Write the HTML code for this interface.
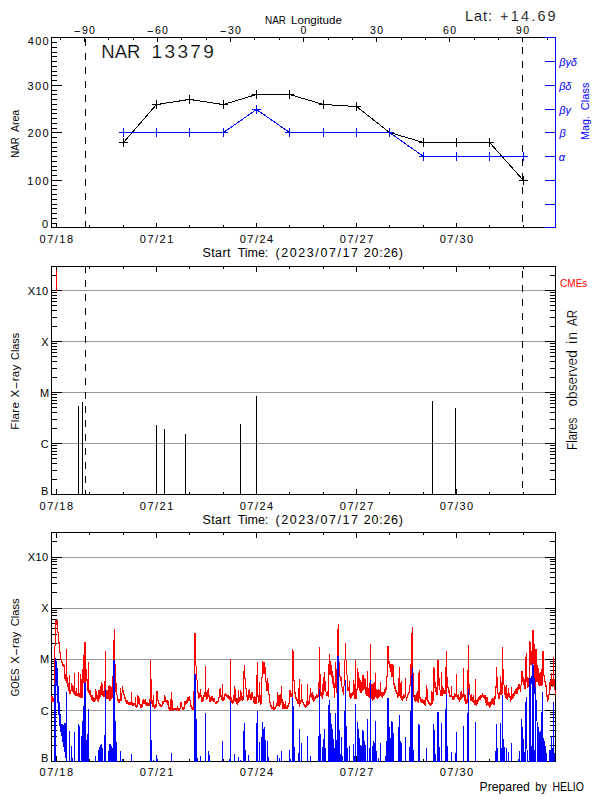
<!DOCTYPE html>
<html><head><meta charset="utf-8"><title>NAR 13379</title>
<style>
html,body{margin:0;padding:0;background:#fff;}
svg{display:block;font-family:"Liberation Sans",sans-serif;}
</style></head><body>
<svg width="600" height="800" viewBox="0 0 600 800" shape-rendering="crispEdges">
<rect width="600" height="800" fill="#fff"/>
<rect x="51" y="37" width="505" height="1" fill="#000"/>
<rect x="51" y="227" width="505" height="1" fill="#000"/>
<rect x="51" y="37" width="1" height="191" fill="#000"/>
<rect x="555" y="37" width="1" height="191" fill="#000"/>
<rect x="51" y="227" width="11" height="1" fill="#000"/>
<rect x="51" y="223" width="6" height="1" fill="#000"/>
<rect x="51" y="218" width="6" height="1" fill="#000"/>
<rect x="51" y="213" width="6" height="1" fill="#000"/>
<rect x="51" y="208" width="6" height="1" fill="#000"/>
<rect x="51" y="204" width="6" height="1" fill="#000"/>
<rect x="51" y="199" width="6" height="1" fill="#000"/>
<rect x="51" y="194" width="6" height="1" fill="#000"/>
<rect x="51" y="189" width="6" height="1" fill="#000"/>
<rect x="51" y="185" width="6" height="1" fill="#000"/>
<rect x="51" y="180" width="11" height="1" fill="#000"/>
<rect x="51" y="175" width="6" height="1" fill="#000"/>
<rect x="51" y="170" width="6" height="1" fill="#000"/>
<rect x="51" y="166" width="6" height="1" fill="#000"/>
<rect x="51" y="161" width="6" height="1" fill="#000"/>
<rect x="51" y="156" width="6" height="1" fill="#000"/>
<rect x="51" y="151" width="6" height="1" fill="#000"/>
<rect x="51" y="147" width="6" height="1" fill="#000"/>
<rect x="51" y="142" width="6" height="1" fill="#000"/>
<rect x="51" y="137" width="6" height="1" fill="#000"/>
<rect x="51" y="132" width="11" height="1" fill="#000"/>
<rect x="51" y="128" width="6" height="1" fill="#000"/>
<rect x="51" y="123" width="6" height="1" fill="#000"/>
<rect x="51" y="118" width="6" height="1" fill="#000"/>
<rect x="51" y="113" width="6" height="1" fill="#000"/>
<rect x="51" y="109" width="6" height="1" fill="#000"/>
<rect x="51" y="104" width="6" height="1" fill="#000"/>
<rect x="51" y="99" width="6" height="1" fill="#000"/>
<rect x="51" y="94" width="6" height="1" fill="#000"/>
<rect x="51" y="90" width="6" height="1" fill="#000"/>
<rect x="51" y="85" width="11" height="1" fill="#000"/>
<rect x="51" y="80" width="6" height="1" fill="#000"/>
<rect x="51" y="75" width="6" height="1" fill="#000"/>
<rect x="51" y="71" width="6" height="1" fill="#000"/>
<rect x="51" y="66" width="6" height="1" fill="#000"/>
<rect x="51" y="61" width="6" height="1" fill="#000"/>
<rect x="51" y="56" width="6" height="1" fill="#000"/>
<rect x="51" y="52" width="6" height="1" fill="#000"/>
<rect x="51" y="47" width="6" height="1" fill="#000"/>
<rect x="51" y="42" width="6" height="1" fill="#000"/>
<rect x="51" y="37" width="11" height="1" fill="#000"/>
<rect x="56" y="223" width="1" height="5" fill="#000"/>
<rect x="89" y="225" width="1" height="3" fill="#000"/>
<rect x="123" y="225" width="1" height="3" fill="#000"/>
<rect x="156" y="223" width="1" height="5" fill="#000"/>
<rect x="189" y="225" width="1" height="3" fill="#000"/>
<rect x="223" y="225" width="1" height="3" fill="#000"/>
<rect x="256" y="223" width="1" height="5" fill="#000"/>
<rect x="289" y="225" width="1" height="3" fill="#000"/>
<rect x="323" y="225" width="1" height="3" fill="#000"/>
<rect x="356" y="223" width="1" height="5" fill="#000"/>
<rect x="389" y="225" width="1" height="3" fill="#000"/>
<rect x="423" y="225" width="1" height="3" fill="#000"/>
<rect x="456" y="223" width="1" height="5" fill="#000"/>
<rect x="489" y="225" width="1" height="3" fill="#000"/>
<rect x="523" y="225" width="1" height="3" fill="#000"/>
<rect x="60" y="37" width="1" height="3" fill="#000"/>
<rect x="84" y="37" width="1" height="5" fill="#000"/>
<rect x="108" y="37" width="1" height="3" fill="#000"/>
<rect x="133" y="37" width="1" height="3" fill="#000"/>
<rect x="157" y="37" width="1" height="5" fill="#000"/>
<rect x="181" y="37" width="1" height="3" fill="#000"/>
<rect x="206" y="37" width="1" height="3" fill="#000"/>
<rect x="230" y="37" width="1" height="5" fill="#000"/>
<rect x="254" y="37" width="1" height="3" fill="#000"/>
<rect x="279" y="37" width="1" height="3" fill="#000"/>
<rect x="303" y="37" width="1" height="5" fill="#000"/>
<rect x="328" y="37" width="1" height="3" fill="#000"/>
<rect x="352" y="37" width="1" height="3" fill="#000"/>
<rect x="376" y="37" width="1" height="5" fill="#000"/>
<rect x="401" y="37" width="1" height="3" fill="#000"/>
<rect x="425" y="37" width="1" height="3" fill="#000"/>
<rect x="449" y="37" width="1" height="5" fill="#000"/>
<rect x="474" y="37" width="1" height="3" fill="#000"/>
<rect x="498" y="37" width="1" height="3" fill="#000"/>
<rect x="522" y="37" width="1" height="5" fill="#000"/>
<rect x="547" y="37" width="1" height="3" fill="#000"/>
<rect x="555" y="37" width="1" height="191" fill="#00f"/>
<rect x="545" y="227" width="11" height="1" fill="#00f"/>
<rect x="545" y="204" width="11" height="1" fill="#00f"/>
<rect x="545" y="180" width="11" height="1" fill="#00f"/>
<rect x="545" y="156" width="11" height="1" fill="#00f"/>
<rect x="545" y="132" width="11" height="1" fill="#00f"/>
<rect x="545" y="109" width="11" height="1" fill="#00f"/>
<rect x="545" y="85" width="11" height="1" fill="#00f"/>
<rect x="545" y="61" width="11" height="1" fill="#00f"/>
<rect x="545" y="37" width="11" height="1" fill="#00f"/>
<rect x="85" y="39" width="1" height="7" fill="#000"/>
<rect x="85" y="53" width="1" height="7" fill="#000"/>
<rect x="85" y="67" width="1" height="7" fill="#000"/>
<rect x="85" y="81" width="1" height="7" fill="#000"/>
<rect x="85" y="95" width="1" height="7" fill="#000"/>
<rect x="85" y="109" width="1" height="7" fill="#000"/>
<rect x="85" y="123" width="1" height="7" fill="#000"/>
<rect x="85" y="137" width="1" height="7" fill="#000"/>
<rect x="85" y="151" width="1" height="7" fill="#000"/>
<rect x="85" y="165" width="1" height="7" fill="#000"/>
<rect x="85" y="179" width="1" height="7" fill="#000"/>
<rect x="85" y="193" width="1" height="7" fill="#000"/>
<rect x="85" y="207" width="1" height="7" fill="#000"/>
<rect x="85" y="221" width="1" height="7" fill="#000"/>
<rect x="522" y="37" width="1" height="3" fill="#000"/>
<rect x="522" y="47" width="1" height="7" fill="#000"/>
<rect x="522" y="61" width="1" height="7" fill="#000"/>
<rect x="522" y="75" width="1" height="7" fill="#000"/>
<rect x="522" y="89" width="1" height="7" fill="#000"/>
<rect x="522" y="103" width="1" height="7" fill="#000"/>
<rect x="522" y="117" width="1" height="7" fill="#000"/>
<rect x="522" y="131" width="1" height="7" fill="#000"/>
<rect x="522" y="145" width="1" height="7" fill="#000"/>
<rect x="522" y="159" width="1" height="7" fill="#000"/>
<rect x="522" y="173" width="1" height="7" fill="#000"/>
<rect x="522" y="187" width="1" height="7" fill="#000"/>
<rect x="522" y="201" width="1" height="7" fill="#000"/>
<rect x="522" y="215" width="1" height="7" fill="#000"/>
<polyline points="123.5,142.5 156.5,104.5 189.5,99.5 223.5,104.5 256.5,94.5 289.5,94.5 323.5,104.5 356.5,106.5 389.5,132.5 423.5,142.5 456.5,142.5 489.5,142.5 523.5,180.5" fill="none" stroke="#000" stroke-width="1"/>
<rect x="119" y="142" width="9" height="1" fill="#000"/>
<rect x="123" y="138" width="1" height="9" fill="#000"/>
<rect x="152" y="104" width="9" height="1" fill="#000"/>
<rect x="156" y="100" width="1" height="9" fill="#000"/>
<rect x="185" y="99" width="9" height="1" fill="#000"/>
<rect x="189" y="95" width="1" height="9" fill="#000"/>
<rect x="219" y="104" width="9" height="1" fill="#000"/>
<rect x="223" y="100" width="1" height="9" fill="#000"/>
<rect x="252" y="94" width="9" height="1" fill="#000"/>
<rect x="256" y="90" width="1" height="9" fill="#000"/>
<rect x="285" y="94" width="9" height="1" fill="#000"/>
<rect x="289" y="90" width="1" height="9" fill="#000"/>
<rect x="319" y="104" width="9" height="1" fill="#000"/>
<rect x="323" y="100" width="1" height="9" fill="#000"/>
<rect x="352" y="106" width="9" height="1" fill="#000"/>
<rect x="356" y="102" width="1" height="9" fill="#000"/>
<rect x="385" y="132" width="9" height="1" fill="#000"/>
<rect x="389" y="128" width="1" height="9" fill="#000"/>
<rect x="419" y="142" width="9" height="1" fill="#000"/>
<rect x="423" y="138" width="1" height="9" fill="#000"/>
<rect x="452" y="142" width="9" height="1" fill="#000"/>
<rect x="456" y="138" width="1" height="9" fill="#000"/>
<rect x="485" y="142" width="9" height="1" fill="#000"/>
<rect x="489" y="138" width="1" height="9" fill="#000"/>
<rect x="519" y="180" width="9" height="1" fill="#000"/>
<rect x="523" y="176" width="1" height="9" fill="#000"/>
<polyline points="123.5,132.5 156.5,132.5 189.5,132.5 223.5,132.5 256.5,109.5 289.5,132.5 323.5,132.5 356.5,132.5 389.5,132.5 423.5,156.5 456.5,156.5 489.5,156.5 523.5,156.5" fill="none" stroke="#00f" stroke-width="1"/>
<rect x="119" y="132" width="9" height="1" fill="#00f"/>
<rect x="123" y="128" width="1" height="9" fill="#00f"/>
<rect x="152" y="132" width="9" height="1" fill="#00f"/>
<rect x="156" y="128" width="1" height="9" fill="#00f"/>
<rect x="185" y="132" width="9" height="1" fill="#00f"/>
<rect x="189" y="128" width="1" height="9" fill="#00f"/>
<rect x="219" y="132" width="9" height="1" fill="#00f"/>
<rect x="223" y="128" width="1" height="9" fill="#00f"/>
<rect x="252" y="109" width="9" height="1" fill="#00f"/>
<rect x="256" y="105" width="1" height="9" fill="#00f"/>
<rect x="285" y="132" width="9" height="1" fill="#00f"/>
<rect x="289" y="128" width="1" height="9" fill="#00f"/>
<rect x="319" y="132" width="9" height="1" fill="#00f"/>
<rect x="323" y="128" width="1" height="9" fill="#00f"/>
<rect x="352" y="132" width="9" height="1" fill="#00f"/>
<rect x="356" y="128" width="1" height="9" fill="#00f"/>
<rect x="385" y="132" width="9" height="1" fill="#00f"/>
<rect x="389" y="128" width="1" height="9" fill="#00f"/>
<rect x="419" y="156" width="9" height="1" fill="#00f"/>
<rect x="423" y="152" width="1" height="9" fill="#00f"/>
<rect x="452" y="156" width="9" height="1" fill="#00f"/>
<rect x="456" y="152" width="1" height="9" fill="#00f"/>
<rect x="485" y="156" width="9" height="1" fill="#00f"/>
<rect x="489" y="152" width="1" height="9" fill="#00f"/>
<rect x="519" y="156" width="9" height="1" fill="#00f"/>
<rect x="523" y="152" width="1" height="9" fill="#00f"/>
<text font-size="11.5" y="23.7"><tspan x="264.99" textLength="20.98" lengthAdjust="spacingAndGlyphs">NAR</tspan> <tspan x="291.06" style="letter-spacing:0.029px">Longitude</tspan></text>
<text font-size="14.5" stroke="#fff" stroke-width="0.15" y="21"><tspan x="465.11" style="letter-spacing:0.941px">Lat:</tspan> <tspan x="500.10" style="letter-spacing:2.166px">+14.69</tspan></text>
<text font-size="10.5" y="34.3"><tspan x="73.52" textLength="7.42" lengthAdjust="spacingAndGlyphs">-</tspan><tspan dx="1.140" style="letter-spacing:1.140px">90</tspan></text>
<text font-size="10.5" y="34.3"><tspan x="146.52" textLength="7.42" lengthAdjust="spacingAndGlyphs">-</tspan><tspan dx="1.140" style="letter-spacing:1.140px">60</tspan></text>
<text font-size="10.5" y="34.3"><tspan x="219.52" textLength="7.42" lengthAdjust="spacingAndGlyphs">-</tspan><tspan dx="1.140" style="letter-spacing:1.140px">30</tspan></text>
<text font-size="10.5" y="34.3"><tspan x="300.58">0</tspan></text>
<text font-size="10.5" y="34.3"><tspan x="370.00" style="letter-spacing:1.322px">30</tspan></text>
<text font-size="10.5" y="34.3"><tspan x="442.88" style="letter-spacing:1.448px">60</tspan></text>
<text font-size="10.5" y="34.3"><tspan x="515.92" style="letter-spacing:1.406px">90</tspan></text>
<text font-size="19" stroke="#fff" stroke-width="0.2" y="57.5"><tspan x="101.28" textLength="39.08" lengthAdjust="spacingAndGlyphs">NAR</tspan> <tspan x="151.56" style="letter-spacing:2.375px">13379</tspan></text>
<text font-size="11" y="45.3"><tspan x="27.76" style="letter-spacing:1.306px">400</tspan></text>
<text font-size="11" y="90.3"><tspan x="27.58" style="letter-spacing:1.394px">300</tspan></text>
<text font-size="11" y="137.3"><tspan x="27.45" style="letter-spacing:1.460px">200</tspan></text>
<text font-size="11" y="185.3"><tspan x="27.16" style="letter-spacing:1.603px">100</tspan></text>
<text font-size="11" y="228"><tspan x="42.09">0</tspan></text>
<text font-size="11" transform="translate(19.3,0) rotate(-90)" y="0"><tspan x="-157.69" textLength="20.34" lengthAdjust="spacingAndGlyphs">NAR</tspan> <tspan x="-132.12" textLength="22.36" lengthAdjust="spacingAndGlyphs">Area</tspan></text>
<text font-size="11" y="243.3"><tspan x="39.52" style="letter-spacing:1.495px">07/18</tspan></text>
<text font-size="11" y="243.3"><tspan x="139.77" style="letter-spacing:1.509px">07/21</tspan></text>
<text font-size="11" y="243.3"><tspan x="239.77" style="letter-spacing:1.457px">07/24</tspan></text>
<text font-size="11" y="243.3"><tspan x="339.77" style="letter-spacing:1.514px">07/27</tspan></text>
<text font-size="11" y="243.3"><tspan x="439.77" style="letter-spacing:1.481px">07/30</tspan></text>
<text font-size="12.5" y="256.6"><tspan x="202.44" style="letter-spacing:0.438px">Start</tspan> <tspan x="237.72" style="letter-spacing:-0.044px">Time:</tspan> <tspan x="275.43" style="letter-spacing:1.587px">(2023/07/17</tspan> <tspan x="363.77" style="letter-spacing:0.753px">20:26)</tspan></text>
<text font-size="11" fill="#00f" font-style="italic" y="66"><tspan x="559.17" style="letter-spacing:-0.035px">βγδ</tspan></text>
<text font-size="11" fill="#00f" font-style="italic" y="90"><tspan x="559.17" textLength="12.23" lengthAdjust="spacingAndGlyphs">βδ</tspan></text>
<text font-size="11" fill="#00f" font-style="italic" y="114"><tspan x="559.17" style="letter-spacing:0.016px">βγ</tspan></text>
<text font-size="11" fill="#00f" font-style="italic" y="137"><tspan x="559.53">β</tspan></text>
<text font-size="11" fill="#00f" font-style="italic" y="161"><tspan x="558.70">α</tspan></text>
<text font-size="11" fill="#00f" transform="translate(589,0) rotate(-90)" y="0"><tspan x="-139.88" textLength="23.86" lengthAdjust="spacingAndGlyphs">Mag.</tspan> <tspan x="-110.25" style="letter-spacing:0.059px">Class</tspan></text>
<rect x="51" y="266" width="505" height="1" fill="#000"/>
<rect x="51" y="494" width="505" height="1" fill="#000"/>
<rect x="51" y="266" width="1" height="229" fill="#000"/>
<rect x="555" y="266" width="1" height="229" fill="#000"/>
<rect x="52" y="290" width="503" height="1" fill="#999"/>
<rect x="52" y="341" width="503" height="1" fill="#999"/>
<rect x="52" y="392" width="503" height="1" fill="#999"/>
<rect x="52" y="443" width="503" height="1" fill="#999"/>
<rect x="51" y="290" width="11" height="1" fill="#000"/>
<rect x="545" y="290" width="11" height="1" fill="#000"/>
<rect x="51" y="275" width="6" height="1" fill="#000"/>
<rect x="550" y="275" width="6" height="1" fill="#000"/>
<rect x="51" y="341" width="11" height="1" fill="#000"/>
<rect x="545" y="341" width="11" height="1" fill="#000"/>
<rect x="51" y="326" width="6" height="1" fill="#000"/>
<rect x="550" y="326" width="6" height="1" fill="#000"/>
<rect x="51" y="317" width="6" height="1" fill="#000"/>
<rect x="550" y="317" width="6" height="1" fill="#000"/>
<rect x="51" y="310" width="6" height="1" fill="#000"/>
<rect x="550" y="310" width="6" height="1" fill="#000"/>
<rect x="51" y="305" width="6" height="1" fill="#000"/>
<rect x="550" y="305" width="6" height="1" fill="#000"/>
<rect x="51" y="301" width="6" height="1" fill="#000"/>
<rect x="550" y="301" width="6" height="1" fill="#000"/>
<rect x="51" y="298" width="6" height="1" fill="#000"/>
<rect x="550" y="298" width="6" height="1" fill="#000"/>
<rect x="51" y="295" width="6" height="1" fill="#000"/>
<rect x="550" y="295" width="6" height="1" fill="#000"/>
<rect x="51" y="292" width="6" height="1" fill="#000"/>
<rect x="550" y="292" width="6" height="1" fill="#000"/>
<rect x="51" y="392" width="11" height="1" fill="#000"/>
<rect x="545" y="392" width="11" height="1" fill="#000"/>
<rect x="51" y="377" width="6" height="1" fill="#000"/>
<rect x="550" y="377" width="6" height="1" fill="#000"/>
<rect x="51" y="368" width="6" height="1" fill="#000"/>
<rect x="550" y="368" width="6" height="1" fill="#000"/>
<rect x="51" y="361" width="6" height="1" fill="#000"/>
<rect x="550" y="361" width="6" height="1" fill="#000"/>
<rect x="51" y="356" width="6" height="1" fill="#000"/>
<rect x="550" y="356" width="6" height="1" fill="#000"/>
<rect x="51" y="352" width="6" height="1" fill="#000"/>
<rect x="550" y="352" width="6" height="1" fill="#000"/>
<rect x="51" y="349" width="6" height="1" fill="#000"/>
<rect x="550" y="349" width="6" height="1" fill="#000"/>
<rect x="51" y="346" width="6" height="1" fill="#000"/>
<rect x="550" y="346" width="6" height="1" fill="#000"/>
<rect x="51" y="343" width="6" height="1" fill="#000"/>
<rect x="550" y="343" width="6" height="1" fill="#000"/>
<rect x="51" y="443" width="11" height="1" fill="#000"/>
<rect x="545" y="443" width="11" height="1" fill="#000"/>
<rect x="51" y="428" width="6" height="1" fill="#000"/>
<rect x="550" y="428" width="6" height="1" fill="#000"/>
<rect x="51" y="419" width="6" height="1" fill="#000"/>
<rect x="550" y="419" width="6" height="1" fill="#000"/>
<rect x="51" y="412" width="6" height="1" fill="#000"/>
<rect x="550" y="412" width="6" height="1" fill="#000"/>
<rect x="51" y="407" width="6" height="1" fill="#000"/>
<rect x="550" y="407" width="6" height="1" fill="#000"/>
<rect x="51" y="403" width="6" height="1" fill="#000"/>
<rect x="550" y="403" width="6" height="1" fill="#000"/>
<rect x="51" y="400" width="6" height="1" fill="#000"/>
<rect x="550" y="400" width="6" height="1" fill="#000"/>
<rect x="51" y="397" width="6" height="1" fill="#000"/>
<rect x="550" y="397" width="6" height="1" fill="#000"/>
<rect x="51" y="394" width="6" height="1" fill="#000"/>
<rect x="550" y="394" width="6" height="1" fill="#000"/>
<rect x="51" y="479" width="6" height="1" fill="#000"/>
<rect x="550" y="479" width="6" height="1" fill="#000"/>
<rect x="51" y="470" width="6" height="1" fill="#000"/>
<rect x="550" y="470" width="6" height="1" fill="#000"/>
<rect x="51" y="463" width="6" height="1" fill="#000"/>
<rect x="550" y="463" width="6" height="1" fill="#000"/>
<rect x="51" y="458" width="6" height="1" fill="#000"/>
<rect x="550" y="458" width="6" height="1" fill="#000"/>
<rect x="51" y="454" width="6" height="1" fill="#000"/>
<rect x="550" y="454" width="6" height="1" fill="#000"/>
<rect x="51" y="451" width="6" height="1" fill="#000"/>
<rect x="550" y="451" width="6" height="1" fill="#000"/>
<rect x="51" y="448" width="6" height="1" fill="#000"/>
<rect x="550" y="448" width="6" height="1" fill="#000"/>
<rect x="51" y="445" width="6" height="1" fill="#000"/>
<rect x="550" y="445" width="6" height="1" fill="#000"/>
<rect x="56" y="489" width="1" height="6" fill="#000"/>
<rect x="56" y="266" width="1" height="6" fill="#000"/>
<rect x="89" y="492" width="1" height="3" fill="#000"/>
<rect x="89" y="266" width="1" height="3" fill="#000"/>
<rect x="123" y="492" width="1" height="3" fill="#000"/>
<rect x="123" y="266" width="1" height="3" fill="#000"/>
<rect x="156" y="489" width="1" height="6" fill="#000"/>
<rect x="156" y="266" width="1" height="6" fill="#000"/>
<rect x="189" y="492" width="1" height="3" fill="#000"/>
<rect x="189" y="266" width="1" height="3" fill="#000"/>
<rect x="223" y="492" width="1" height="3" fill="#000"/>
<rect x="223" y="266" width="1" height="3" fill="#000"/>
<rect x="256" y="489" width="1" height="6" fill="#000"/>
<rect x="256" y="266" width="1" height="6" fill="#000"/>
<rect x="289" y="492" width="1" height="3" fill="#000"/>
<rect x="289" y="266" width="1" height="3" fill="#000"/>
<rect x="323" y="492" width="1" height="3" fill="#000"/>
<rect x="323" y="266" width="1" height="3" fill="#000"/>
<rect x="356" y="489" width="1" height="6" fill="#000"/>
<rect x="356" y="266" width="1" height="6" fill="#000"/>
<rect x="389" y="492" width="1" height="3" fill="#000"/>
<rect x="389" y="266" width="1" height="3" fill="#000"/>
<rect x="423" y="492" width="1" height="3" fill="#000"/>
<rect x="423" y="266" width="1" height="3" fill="#000"/>
<rect x="456" y="489" width="1" height="6" fill="#000"/>
<rect x="456" y="266" width="1" height="6" fill="#000"/>
<rect x="489" y="492" width="1" height="3" fill="#000"/>
<rect x="489" y="266" width="1" height="3" fill="#000"/>
<rect x="523" y="492" width="1" height="3" fill="#000"/>
<rect x="523" y="266" width="1" height="3" fill="#000"/>
<rect x="85" y="266" width="1" height="7" fill="#000"/>
<rect x="85" y="280" width="1" height="7" fill="#000"/>
<rect x="85" y="294" width="1" height="7" fill="#000"/>
<rect x="85" y="308" width="1" height="7" fill="#000"/>
<rect x="85" y="322" width="1" height="7" fill="#000"/>
<rect x="85" y="336" width="1" height="7" fill="#000"/>
<rect x="85" y="350" width="1" height="7" fill="#000"/>
<rect x="85" y="364" width="1" height="7" fill="#000"/>
<rect x="85" y="378" width="1" height="7" fill="#000"/>
<rect x="85" y="392" width="1" height="7" fill="#000"/>
<rect x="85" y="406" width="1" height="7" fill="#000"/>
<rect x="85" y="420" width="1" height="7" fill="#000"/>
<rect x="85" y="434" width="1" height="7" fill="#000"/>
<rect x="85" y="448" width="1" height="7" fill="#000"/>
<rect x="85" y="462" width="1" height="7" fill="#000"/>
<rect x="85" y="476" width="1" height="7" fill="#000"/>
<rect x="85" y="490" width="1" height="5" fill="#000"/>
<rect x="522" y="271" width="1" height="7" fill="#000"/>
<rect x="522" y="285" width="1" height="7" fill="#000"/>
<rect x="522" y="299" width="1" height="7" fill="#000"/>
<rect x="522" y="313" width="1" height="7" fill="#000"/>
<rect x="522" y="327" width="1" height="7" fill="#000"/>
<rect x="522" y="341" width="1" height="7" fill="#000"/>
<rect x="522" y="355" width="1" height="7" fill="#000"/>
<rect x="522" y="369" width="1" height="7" fill="#000"/>
<rect x="522" y="383" width="1" height="7" fill="#000"/>
<rect x="522" y="397" width="1" height="7" fill="#000"/>
<rect x="522" y="411" width="1" height="7" fill="#000"/>
<rect x="522" y="425" width="1" height="7" fill="#000"/>
<rect x="522" y="439" width="1" height="7" fill="#000"/>
<rect x="522" y="453" width="1" height="7" fill="#000"/>
<rect x="522" y="467" width="1" height="7" fill="#000"/>
<rect x="522" y="481" width="1" height="7" fill="#000"/>
<rect x="56" y="270" width="1" height="21" fill="#f00"/>
<rect x="78" y="406" width="1" height="89" fill="#000"/>
<rect x="82" y="402" width="1" height="93" fill="#000"/>
<rect x="156" y="425" width="1" height="70" fill="#000"/>
<rect x="164" y="429" width="1" height="66" fill="#000"/>
<rect x="185" y="434" width="1" height="61" fill="#000"/>
<rect x="240" y="424" width="1" height="71" fill="#000"/>
<rect x="256" y="396" width="1" height="99" fill="#000"/>
<rect x="432" y="401" width="1" height="94" fill="#000"/>
<rect x="455" y="408" width="1" height="87" fill="#000"/>
<text font-size="11" y="295.3"><tspan x="27.76" style="letter-spacing:0.445px">X10</tspan></text>
<text font-size="11" y="346.3"><tspan x="41.23">X</tspan></text>
<text font-size="11" y="397.3"><tspan x="39.94">M</tspan></text>
<text font-size="11" y="448.3"><tspan x="40.86">C</tspan></text>
<text font-size="11" y="495"><tspan x="40.92">B</tspan></text>
<text font-size="11.5" transform="translate(19.3,0) rotate(-90)" y="0"><tspan x="-429.74" style="letter-spacing:0.338px">Flare</tspan> <tspan x="-397.45" style="letter-spacing:0.200px">X</tspan><tspan textLength="8.13" lengthAdjust="spacingAndGlyphs">-</tspan><tspan dx="0.200" style="letter-spacing:0.200px">ray</tspan> <tspan x="-359.94" textLength="27.08" lengthAdjust="spacingAndGlyphs">Class</tspan></text>
<text font-size="10.5" fill="#f00" y="287"><tspan x="560.00" textLength="27.37" lengthAdjust="spacingAndGlyphs">CMEs</tspan></text>
<text font-size="14" stroke="#fff" stroke-width="0.15" transform="translate(576.8,0) rotate(-90)" y="0"><tspan x="-449.96" textLength="32.38" lengthAdjust="spacingAndGlyphs">Flares</tspan> <tspan x="-406.58" textLength="56.45" lengthAdjust="spacingAndGlyphs">observed</tspan> <tspan x="-343.92" style="letter-spacing:0.928px">in</tspan> <tspan x="-326.02" textLength="16.16" lengthAdjust="spacingAndGlyphs">AR</tspan></text>
<text font-size="11" y="510.3"><tspan x="39.52" style="letter-spacing:1.495px">07/18</tspan></text>
<text font-size="11" y="510.3"><tspan x="139.77" style="letter-spacing:1.509px">07/21</tspan></text>
<text font-size="11" y="510.3"><tspan x="239.77" style="letter-spacing:1.457px">07/24</tspan></text>
<text font-size="11" y="510.3"><tspan x="339.77" style="letter-spacing:1.514px">07/27</tspan></text>
<text font-size="11" y="510.3"><tspan x="439.77" style="letter-spacing:1.481px">07/30</tspan></text>
<text font-size="12.5" y="523.6"><tspan x="202.44" style="letter-spacing:0.438px">Start</tspan> <tspan x="237.72" style="letter-spacing:-0.044px">Time:</tspan> <tspan x="275.43" style="letter-spacing:1.587px">(2023/07/17</tspan> <tspan x="363.77" style="letter-spacing:0.753px">20:26)</tspan></text>
<rect x="51" y="532" width="505" height="1" fill="#000"/>
<rect x="51" y="761" width="505" height="1" fill="#000"/>
<rect x="51" y="532" width="1" height="230" fill="#000"/>
<rect x="555" y="532" width="1" height="230" fill="#000"/>
<rect x="52" y="557" width="503" height="1" fill="#999"/>
<rect x="52" y="608" width="503" height="1" fill="#999"/>
<rect x="52" y="659" width="503" height="1" fill="#999"/>
<rect x="52" y="710" width="503" height="1" fill="#999"/>
<rect x="51" y="557" width="11" height="1" fill="#000"/>
<rect x="545" y="557" width="11" height="1" fill="#000"/>
<rect x="51" y="541" width="6" height="1" fill="#000"/>
<rect x="550" y="541" width="6" height="1" fill="#000"/>
<rect x="51" y="608" width="11" height="1" fill="#000"/>
<rect x="545" y="608" width="11" height="1" fill="#000"/>
<rect x="51" y="592" width="6" height="1" fill="#000"/>
<rect x="550" y="592" width="6" height="1" fill="#000"/>
<rect x="51" y="583" width="6" height="1" fill="#000"/>
<rect x="550" y="583" width="6" height="1" fill="#000"/>
<rect x="51" y="577" width="6" height="1" fill="#000"/>
<rect x="550" y="577" width="6" height="1" fill="#000"/>
<rect x="51" y="572" width="6" height="1" fill="#000"/>
<rect x="550" y="572" width="6" height="1" fill="#000"/>
<rect x="51" y="568" width="6" height="1" fill="#000"/>
<rect x="550" y="568" width="6" height="1" fill="#000"/>
<rect x="51" y="564" width="6" height="1" fill="#000"/>
<rect x="550" y="564" width="6" height="1" fill="#000"/>
<rect x="51" y="561" width="6" height="1" fill="#000"/>
<rect x="550" y="561" width="6" height="1" fill="#000"/>
<rect x="51" y="559" width="6" height="1" fill="#000"/>
<rect x="550" y="559" width="6" height="1" fill="#000"/>
<rect x="51" y="659" width="11" height="1" fill="#000"/>
<rect x="545" y="659" width="11" height="1" fill="#000"/>
<rect x="51" y="643" width="6" height="1" fill="#000"/>
<rect x="550" y="643" width="6" height="1" fill="#000"/>
<rect x="51" y="634" width="6" height="1" fill="#000"/>
<rect x="550" y="634" width="6" height="1" fill="#000"/>
<rect x="51" y="628" width="6" height="1" fill="#000"/>
<rect x="550" y="628" width="6" height="1" fill="#000"/>
<rect x="51" y="623" width="6" height="1" fill="#000"/>
<rect x="550" y="623" width="6" height="1" fill="#000"/>
<rect x="51" y="619" width="6" height="1" fill="#000"/>
<rect x="550" y="619" width="6" height="1" fill="#000"/>
<rect x="51" y="615" width="6" height="1" fill="#000"/>
<rect x="550" y="615" width="6" height="1" fill="#000"/>
<rect x="51" y="612" width="6" height="1" fill="#000"/>
<rect x="550" y="612" width="6" height="1" fill="#000"/>
<rect x="51" y="610" width="6" height="1" fill="#000"/>
<rect x="550" y="610" width="6" height="1" fill="#000"/>
<rect x="51" y="710" width="11" height="1" fill="#000"/>
<rect x="545" y="710" width="11" height="1" fill="#000"/>
<rect x="51" y="694" width="6" height="1" fill="#000"/>
<rect x="550" y="694" width="6" height="1" fill="#000"/>
<rect x="51" y="685" width="6" height="1" fill="#000"/>
<rect x="550" y="685" width="6" height="1" fill="#000"/>
<rect x="51" y="679" width="6" height="1" fill="#000"/>
<rect x="550" y="679" width="6" height="1" fill="#000"/>
<rect x="51" y="674" width="6" height="1" fill="#000"/>
<rect x="550" y="674" width="6" height="1" fill="#000"/>
<rect x="51" y="670" width="6" height="1" fill="#000"/>
<rect x="550" y="670" width="6" height="1" fill="#000"/>
<rect x="51" y="666" width="6" height="1" fill="#000"/>
<rect x="550" y="666" width="6" height="1" fill="#000"/>
<rect x="51" y="663" width="6" height="1" fill="#000"/>
<rect x="550" y="663" width="6" height="1" fill="#000"/>
<rect x="51" y="661" width="6" height="1" fill="#000"/>
<rect x="550" y="661" width="6" height="1" fill="#000"/>
<rect x="51" y="745" width="6" height="1" fill="#000"/>
<rect x="550" y="745" width="6" height="1" fill="#000"/>
<rect x="51" y="736" width="6" height="1" fill="#000"/>
<rect x="550" y="736" width="6" height="1" fill="#000"/>
<rect x="51" y="730" width="6" height="1" fill="#000"/>
<rect x="550" y="730" width="6" height="1" fill="#000"/>
<rect x="51" y="725" width="6" height="1" fill="#000"/>
<rect x="550" y="725" width="6" height="1" fill="#000"/>
<rect x="51" y="721" width="6" height="1" fill="#000"/>
<rect x="550" y="721" width="6" height="1" fill="#000"/>
<rect x="51" y="717" width="6" height="1" fill="#000"/>
<rect x="550" y="717" width="6" height="1" fill="#000"/>
<rect x="51" y="714" width="6" height="1" fill="#000"/>
<rect x="550" y="714" width="6" height="1" fill="#000"/>
<rect x="51" y="712" width="6" height="1" fill="#000"/>
<rect x="550" y="712" width="6" height="1" fill="#000"/>
<rect x="56" y="756" width="1" height="6" fill="#000"/>
<rect x="56" y="532" width="1" height="6" fill="#000"/>
<rect x="89" y="759" width="1" height="3" fill="#000"/>
<rect x="89" y="532" width="1" height="3" fill="#000"/>
<rect x="123" y="759" width="1" height="3" fill="#000"/>
<rect x="123" y="532" width="1" height="3" fill="#000"/>
<rect x="156" y="756" width="1" height="6" fill="#000"/>
<rect x="156" y="532" width="1" height="6" fill="#000"/>
<rect x="189" y="759" width="1" height="3" fill="#000"/>
<rect x="189" y="532" width="1" height="3" fill="#000"/>
<rect x="223" y="759" width="1" height="3" fill="#000"/>
<rect x="223" y="532" width="1" height="3" fill="#000"/>
<rect x="256" y="756" width="1" height="6" fill="#000"/>
<rect x="256" y="532" width="1" height="6" fill="#000"/>
<rect x="289" y="759" width="1" height="3" fill="#000"/>
<rect x="289" y="532" width="1" height="3" fill="#000"/>
<rect x="323" y="759" width="1" height="3" fill="#000"/>
<rect x="323" y="532" width="1" height="3" fill="#000"/>
<rect x="356" y="756" width="1" height="6" fill="#000"/>
<rect x="356" y="532" width="1" height="6" fill="#000"/>
<rect x="389" y="759" width="1" height="3" fill="#000"/>
<rect x="389" y="532" width="1" height="3" fill="#000"/>
<rect x="423" y="759" width="1" height="3" fill="#000"/>
<rect x="423" y="532" width="1" height="3" fill="#000"/>
<rect x="456" y="756" width="1" height="6" fill="#000"/>
<rect x="456" y="532" width="1" height="6" fill="#000"/>
<rect x="489" y="759" width="1" height="3" fill="#000"/>
<rect x="489" y="532" width="1" height="3" fill="#000"/>
<rect x="523" y="759" width="1" height="3" fill="#000"/>
<rect x="523" y="532" width="1" height="3" fill="#000"/>
<rect x="51" y="696" width="1" height="6" fill="#f00"/>
<rect x="52" y="696" width="1" height="6" fill="#f00"/>
<rect x="53" y="698" width="1" height="4" fill="#f00"/>
<rect x="54" y="646" width="1" height="54" fill="#f00"/>
<rect x="55" y="620" width="1" height="26" fill="#f00"/>
<rect x="56" y="620" width="1" height="5" fill="#f00"/>
<rect x="57" y="620" width="1" height="13" fill="#f00"/>
<rect x="58" y="632" width="1" height="12" fill="#f00"/>
<rect x="59" y="642" width="1" height="11" fill="#f00"/>
<rect x="60" y="652" width="1" height="8" fill="#f00"/>
<rect x="61" y="659" width="1" height="4" fill="#f00"/>
<rect x="62" y="662" width="1" height="4" fill="#f00"/>
<rect x="63" y="664" width="1" height="3" fill="#f00"/>
<rect x="64" y="665" width="1" height="14" fill="#f00"/>
<rect x="65" y="674" width="1" height="7" fill="#f00"/>
<rect x="66" y="649" width="1" height="34" fill="#f00"/>
<rect x="67" y="677" width="1" height="10" fill="#f00"/>
<rect x="68" y="683" width="1" height="8" fill="#f00"/>
<rect x="69" y="675" width="1" height="19" fill="#f00"/>
<rect x="70" y="690" width="1" height="4" fill="#f00"/>
<rect x="71" y="683" width="1" height="8" fill="#f00"/>
<rect x="72" y="685" width="1" height="7" fill="#f00"/>
<rect x="73" y="686" width="1" height="8" fill="#f00"/>
<rect x="74" y="673" width="1" height="22" fill="#f00"/>
<rect x="75" y="691" width="1" height="5" fill="#f00"/>
<rect x="76" y="688" width="1" height="8" fill="#f00"/>
<rect x="77" y="693" width="1" height="3" fill="#f00"/>
<rect x="78" y="672" width="1" height="25" fill="#f00"/>
<rect x="79" y="693" width="1" height="4" fill="#f00"/>
<rect x="80" y="674" width="1" height="24" fill="#f00"/>
<rect x="81" y="679" width="1" height="19" fill="#f00"/>
<rect x="82" y="669" width="1" height="29" fill="#f00"/>
<rect x="83" y="655" width="1" height="28" fill="#f00"/>
<rect x="84" y="642" width="1" height="41" fill="#f00"/>
<rect x="85" y="642" width="1" height="41" fill="#f00"/>
<rect x="86" y="669" width="1" height="12" fill="#f00"/>
<rect x="87" y="679" width="1" height="12" fill="#f00"/>
<rect x="88" y="662" width="1" height="31" fill="#f00"/>
<rect x="89" y="690" width="1" height="5" fill="#f00"/>
<rect x="90" y="690" width="1" height="7" fill="#f00"/>
<rect x="91" y="695" width="1" height="5" fill="#f00"/>
<rect x="92" y="695" width="1" height="6" fill="#f00"/>
<rect x="93" y="697" width="1" height="5" fill="#f00"/>
<rect x="94" y="698" width="1" height="4" fill="#f00"/>
<rect x="95" y="689" width="1" height="12" fill="#f00"/>
<rect x="96" y="691" width="1" height="8" fill="#f00"/>
<rect x="97" y="695" width="1" height="6" fill="#f00"/>
<rect x="98" y="690" width="1" height="12" fill="#f00"/>
<rect x="99" y="690" width="1" height="9" fill="#f00"/>
<rect x="100" y="686" width="1" height="11" fill="#f00"/>
<rect x="101" y="682" width="1" height="13" fill="#f00"/>
<rect x="102" y="684" width="1" height="12" fill="#f00"/>
<rect x="103" y="691" width="1" height="6" fill="#f00"/>
<rect x="104" y="681" width="1" height="16" fill="#f00"/>
<rect x="105" y="651" width="1" height="39" fill="#f00"/>
<rect x="106" y="690" width="1" height="9" fill="#f00"/>
<rect x="107" y="690" width="1" height="9" fill="#f00"/>
<rect x="108" y="686" width="1" height="13" fill="#f00"/>
<rect x="109" y="685" width="1" height="16" fill="#f00"/>
<rect x="110" y="686" width="1" height="15" fill="#f00"/>
<rect x="111" y="687" width="1" height="12" fill="#f00"/>
<rect x="112" y="676" width="1" height="22" fill="#f00"/>
<rect x="113" y="640" width="1" height="36" fill="#f00"/>
<rect x="114" y="629" width="1" height="35" fill="#f00"/>
<rect x="115" y="664" width="1" height="28" fill="#f00"/>
<rect x="116" y="683" width="1" height="12" fill="#f00"/>
<rect x="117" y="695" width="1" height="6" fill="#f00"/>
<rect x="118" y="699" width="1" height="4" fill="#f00"/>
<rect x="119" y="699" width="1" height="4" fill="#f00"/>
<rect x="120" y="688" width="1" height="13" fill="#f00"/>
<rect x="121" y="693" width="1" height="8" fill="#f00"/>
<rect x="122" y="686" width="1" height="7" fill="#f00"/>
<rect x="123" y="690" width="1" height="5" fill="#f00"/>
<rect x="124" y="694" width="1" height="5" fill="#f00"/>
<rect x="125" y="697" width="1" height="5" fill="#f00"/>
<rect x="126" y="700" width="1" height="4" fill="#f00"/>
<rect x="127" y="700" width="1" height="4" fill="#f00"/>
<rect x="128" y="702" width="1" height="3" fill="#f00"/>
<rect x="129" y="702" width="1" height="3" fill="#f00"/>
<rect x="130" y="702" width="1" height="3" fill="#f00"/>
<rect x="131" y="692" width="1" height="13" fill="#f00"/>
<rect x="132" y="702" width="1" height="4" fill="#f00"/>
<rect x="133" y="703" width="1" height="3" fill="#f00"/>
<rect x="134" y="703" width="1" height="2" fill="#f00"/>
<rect x="135" y="697" width="1" height="10" fill="#f00"/>
<rect x="136" y="705" width="1" height="3" fill="#f00"/>
<rect x="137" y="695" width="1" height="12" fill="#f00"/>
<rect x="138" y="696" width="1" height="8" fill="#f00"/>
<rect x="139" y="698" width="1" height="7" fill="#f00"/>
<rect x="140" y="704" width="1" height="4" fill="#f00"/>
<rect x="141" y="704" width="1" height="4" fill="#f00"/>
<rect x="142" y="700" width="1" height="7" fill="#f00"/>
<rect x="143" y="699" width="1" height="5" fill="#f00"/>
<rect x="144" y="700" width="1" height="4" fill="#f00"/>
<rect x="145" y="699" width="1" height="6" fill="#f00"/>
<rect x="146" y="702" width="1" height="4" fill="#f00"/>
<rect x="147" y="702" width="1" height="4" fill="#f00"/>
<rect x="148" y="703" width="1" height="3" fill="#f00"/>
<rect x="149" y="699" width="1" height="7" fill="#f00"/>
<rect x="150" y="660" width="1" height="41" fill="#f00"/>
<rect x="151" y="679" width="1" height="25" fill="#f00"/>
<rect x="152" y="700" width="1" height="7" fill="#f00"/>
<rect x="153" y="695" width="1" height="12" fill="#f00"/>
<rect x="154" y="705" width="1" height="4" fill="#f00"/>
<rect x="155" y="704" width="1" height="4" fill="#f00"/>
<rect x="156" y="691" width="1" height="16" fill="#f00"/>
<rect x="157" y="691" width="1" height="10" fill="#f00"/>
<rect x="158" y="700" width="1" height="4" fill="#f00"/>
<rect x="159" y="703" width="1" height="3" fill="#f00"/>
<rect x="160" y="704" width="1" height="3" fill="#f00"/>
<rect x="161" y="705" width="1" height="2" fill="#f00"/>
<rect x="162" y="701" width="1" height="5" fill="#f00"/>
<rect x="163" y="701" width="1" height="3" fill="#f00"/>
<rect x="164" y="695" width="1" height="7" fill="#f00"/>
<rect x="165" y="697" width="1" height="5" fill="#f00"/>
<rect x="166" y="700" width="1" height="3" fill="#f00"/>
<rect x="167" y="700" width="1" height="5" fill="#f00"/>
<rect x="168" y="701" width="1" height="8" fill="#f00"/>
<rect x="169" y="707" width="1" height="4" fill="#f00"/>
<rect x="170" y="699" width="1" height="12" fill="#f00"/>
<rect x="171" y="692" width="1" height="18" fill="#f00"/>
<rect x="172" y="700" width="1" height="11" fill="#f00"/>
<rect x="173" y="708" width="1" height="3" fill="#f00"/>
<rect x="174" y="708" width="1" height="2" fill="#f00"/>
<rect x="175" y="708" width="1" height="2" fill="#f00"/>
<rect x="176" y="708" width="1" height="3" fill="#f00"/>
<rect x="177" y="706" width="1" height="4" fill="#f00"/>
<rect x="178" y="708" width="1" height="3" fill="#f00"/>
<rect x="179" y="708" width="1" height="3" fill="#f00"/>
<rect x="180" y="702" width="1" height="7" fill="#f00"/>
<rect x="181" y="702" width="1" height="5" fill="#f00"/>
<rect x="182" y="707" width="1" height="3" fill="#f00"/>
<rect x="183" y="707" width="1" height="3" fill="#f00"/>
<rect x="184" y="701" width="1" height="8" fill="#f00"/>
<rect x="185" y="701" width="1" height="4" fill="#f00"/>
<rect x="186" y="700" width="1" height="4" fill="#f00"/>
<rect x="187" y="697" width="1" height="6" fill="#f00"/>
<rect x="188" y="697" width="1" height="4" fill="#f00"/>
<rect x="189" y="696" width="1" height="5" fill="#f00"/>
<rect x="190" y="700" width="1" height="7" fill="#f00"/>
<rect x="191" y="705" width="1" height="4" fill="#f00"/>
<rect x="192" y="707" width="1" height="3" fill="#f00"/>
<rect x="193" y="691" width="1" height="19" fill="#f00"/>
<rect x="194" y="633" width="1" height="58" fill="#f00"/>
<rect x="195" y="633" width="1" height="33" fill="#f00"/>
<rect x="196" y="666" width="1" height="14" fill="#f00"/>
<rect x="197" y="680" width="1" height="13" fill="#f00"/>
<rect x="198" y="692" width="1" height="7" fill="#f00"/>
<rect x="199" y="693" width="1" height="5" fill="#f00"/>
<rect x="200" y="689" width="1" height="8" fill="#f00"/>
<rect x="201" y="695" width="1" height="7" fill="#f00"/>
<rect x="202" y="697" width="1" height="5" fill="#f00"/>
<rect x="203" y="695" width="1" height="6" fill="#f00"/>
<rect x="204" y="692" width="1" height="5" fill="#f00"/>
<rect x="205" y="666" width="1" height="31" fill="#f00"/>
<rect x="206" y="692" width="1" height="8" fill="#f00"/>
<rect x="207" y="690" width="1" height="9" fill="#f00"/>
<rect x="208" y="688" width="1" height="9" fill="#f00"/>
<rect x="209" y="695" width="1" height="7" fill="#f00"/>
<rect x="210" y="697" width="1" height="5" fill="#f00"/>
<rect x="211" y="696" width="1" height="5" fill="#f00"/>
<rect x="212" y="696" width="1" height="5" fill="#f00"/>
<rect x="213" y="698" width="1" height="4" fill="#f00"/>
<rect x="214" y="698" width="1" height="4" fill="#f00"/>
<rect x="215" y="702" width="1" height="2" fill="#f00"/>
<rect x="216" y="701" width="1" height="3" fill="#f00"/>
<rect x="217" y="701" width="1" height="2" fill="#f00"/>
<rect x="218" y="697" width="1" height="5" fill="#f00"/>
<rect x="219" y="689" width="1" height="9" fill="#f00"/>
<rect x="220" y="688" width="1" height="9" fill="#f00"/>
<rect x="221" y="695" width="1" height="5" fill="#f00"/>
<rect x="222" y="684" width="1" height="17" fill="#f00"/>
<rect x="223" y="697" width="1" height="4" fill="#f00"/>
<rect x="224" y="694" width="1" height="6" fill="#f00"/>
<rect x="225" y="693" width="1" height="3" fill="#f00"/>
<rect x="226" y="694" width="1" height="3" fill="#f00"/>
<rect x="227" y="695" width="1" height="3" fill="#f00"/>
<rect x="228" y="695" width="1" height="4" fill="#f00"/>
<rect x="229" y="696" width="1" height="4" fill="#f00"/>
<rect x="230" y="659" width="1" height="42" fill="#f00"/>
<rect x="231" y="697" width="1" height="6" fill="#f00"/>
<rect x="232" y="700" width="1" height="4" fill="#f00"/>
<rect x="233" y="695" width="1" height="8" fill="#f00"/>
<rect x="234" y="686" width="1" height="15" fill="#f00"/>
<rect x="235" y="689" width="1" height="13" fill="#f00"/>
<rect x="236" y="698" width="1" height="6" fill="#f00"/>
<rect x="237" y="698" width="1" height="7" fill="#f00"/>
<rect x="238" y="690" width="1" height="13" fill="#f00"/>
<rect x="239" y="697" width="1" height="5" fill="#f00"/>
<rect x="240" y="690" width="1" height="11" fill="#f00"/>
<rect x="241" y="692" width="1" height="8" fill="#f00"/>
<rect x="242" y="696" width="1" height="5" fill="#f00"/>
<rect x="243" y="671" width="1" height="29" fill="#f00"/>
<rect x="244" y="665" width="1" height="14" fill="#f00"/>
<rect x="245" y="678" width="1" height="11" fill="#f00"/>
<rect x="246" y="688" width="1" height="9" fill="#f00"/>
<rect x="247" y="695" width="1" height="6" fill="#f00"/>
<rect x="248" y="690" width="1" height="10" fill="#f00"/>
<rect x="249" y="689" width="1" height="9" fill="#f00"/>
<rect x="250" y="694" width="1" height="6" fill="#f00"/>
<rect x="251" y="692" width="1" height="8" fill="#f00"/>
<rect x="252" y="692" width="1" height="6" fill="#f00"/>
<rect x="253" y="697" width="1" height="6" fill="#f00"/>
<rect x="254" y="696" width="1" height="8" fill="#f00"/>
<rect x="255" y="697" width="1" height="7" fill="#f00"/>
<rect x="256" y="675" width="1" height="29" fill="#f00"/>
<rect x="257" y="662" width="1" height="35" fill="#f00"/>
<rect x="258" y="695" width="1" height="8" fill="#f00"/>
<rect x="259" y="682" width="1" height="20" fill="#f00"/>
<rect x="260" y="695" width="1" height="10" fill="#f00"/>
<rect x="261" y="677" width="1" height="27" fill="#f00"/>
<rect x="262" y="661" width="1" height="17" fill="#f00"/>
<rect x="263" y="662" width="1" height="12" fill="#f00"/>
<rect x="264" y="662" width="1" height="12" fill="#f00"/>
<rect x="265" y="667" width="1" height="15" fill="#f00"/>
<rect x="266" y="681" width="1" height="10" fill="#f00"/>
<rect x="267" y="678" width="1" height="13" fill="#f00"/>
<rect x="268" y="683" width="1" height="12" fill="#f00"/>
<rect x="269" y="694" width="1" height="9" fill="#f00"/>
<rect x="270" y="702" width="1" height="5" fill="#f00"/>
<rect x="271" y="705" width="1" height="4" fill="#f00"/>
<rect x="272" y="707" width="1" height="2" fill="#f00"/>
<rect x="273" y="701" width="1" height="9" fill="#f00"/>
<rect x="274" y="707" width="1" height="3" fill="#f00"/>
<rect x="275" y="706" width="1" height="3" fill="#f00"/>
<rect x="276" y="703" width="1" height="4" fill="#f00"/>
<rect x="277" y="692" width="1" height="14" fill="#f00"/>
<rect x="278" y="695" width="1" height="11" fill="#f00"/>
<rect x="279" y="695" width="1" height="12" fill="#f00"/>
<rect x="280" y="694" width="1" height="11" fill="#f00"/>
<rect x="281" y="686" width="1" height="17" fill="#f00"/>
<rect x="282" y="699" width="1" height="10" fill="#f00"/>
<rect x="283" y="702" width="1" height="7" fill="#f00"/>
<rect x="284" y="704" width="1" height="5" fill="#f00"/>
<rect x="285" y="701" width="1" height="8" fill="#f00"/>
<rect x="286" y="706" width="1" height="3" fill="#f00"/>
<rect x="287" y="705" width="1" height="4" fill="#f00"/>
<rect x="288" y="703" width="1" height="4" fill="#f00"/>
<rect x="289" y="690" width="1" height="14" fill="#f00"/>
<rect x="290" y="690" width="1" height="7" fill="#f00"/>
<rect x="291" y="693" width="1" height="4" fill="#f00"/>
<rect x="292" y="649" width="1" height="48" fill="#f00"/>
<rect x="293" y="651" width="1" height="30" fill="#f00"/>
<rect x="294" y="680" width="1" height="14" fill="#f00"/>
<rect x="295" y="692" width="1" height="7" fill="#f00"/>
<rect x="296" y="697" width="1" height="4" fill="#f00"/>
<rect x="297" y="699" width="1" height="5" fill="#f00"/>
<rect x="298" y="688" width="1" height="16" fill="#f00"/>
<rect x="299" y="679" width="1" height="28" fill="#f00"/>
<rect x="300" y="700" width="1" height="4" fill="#f00"/>
<rect x="301" y="684" width="1" height="18" fill="#f00"/>
<rect x="302" y="699" width="1" height="4" fill="#f00"/>
<rect x="303" y="702" width="1" height="3" fill="#f00"/>
<rect x="304" y="704" width="1" height="3" fill="#f00"/>
<rect x="305" y="705" width="1" height="3" fill="#f00"/>
<rect x="306" y="701" width="1" height="6" fill="#f00"/>
<rect x="307" y="684" width="1" height="22" fill="#f00"/>
<rect x="308" y="701" width="1" height="4" fill="#f00"/>
<rect x="309" y="695" width="1" height="9" fill="#f00"/>
<rect x="310" y="688" width="1" height="9" fill="#f00"/>
<rect x="311" y="693" width="1" height="5" fill="#f00"/>
<rect x="312" y="692" width="1" height="8" fill="#f00"/>
<rect x="313" y="695" width="1" height="7" fill="#f00"/>
<rect x="314" y="697" width="1" height="4" fill="#f00"/>
<rect x="315" y="696" width="1" height="3" fill="#f00"/>
<rect x="316" y="694" width="1" height="4" fill="#f00"/>
<rect x="317" y="695" width="1" height="3" fill="#f00"/>
<rect x="318" y="682" width="1" height="15" fill="#f00"/>
<rect x="319" y="647" width="1" height="42" fill="#f00"/>
<rect x="320" y="674" width="1" height="22" fill="#f00"/>
<rect x="321" y="692" width="1" height="5" fill="#f00"/>
<rect x="322" y="684" width="1" height="15" fill="#f00"/>
<rect x="323" y="677" width="1" height="18" fill="#f00"/>
<rect x="324" y="672" width="1" height="19" fill="#f00"/>
<rect x="325" y="681" width="1" height="11" fill="#f00"/>
<rect x="326" y="692" width="1" height="4" fill="#f00"/>
<rect x="327" y="691" width="1" height="5" fill="#f00"/>
<rect x="328" y="664" width="1" height="33" fill="#f00"/>
<rect x="329" y="654" width="1" height="21" fill="#f00"/>
<rect x="330" y="661" width="1" height="14" fill="#f00"/>
<rect x="331" y="665" width="1" height="12" fill="#f00"/>
<rect x="332" y="671" width="1" height="13" fill="#f00"/>
<rect x="333" y="676" width="1" height="12" fill="#f00"/>
<rect x="334" y="683" width="1" height="15" fill="#f00"/>
<rect x="335" y="662" width="1" height="26" fill="#f00"/>
<rect x="336" y="669" width="1" height="24" fill="#f00"/>
<rect x="337" y="629" width="1" height="40" fill="#f00"/>
<rect x="338" y="624" width="1" height="38" fill="#f00"/>
<rect x="339" y="662" width="1" height="15" fill="#f00"/>
<rect x="340" y="676" width="1" height="5" fill="#f00"/>
<rect x="341" y="677" width="1" height="10" fill="#f00"/>
<rect x="342" y="687" width="1" height="5" fill="#f00"/>
<rect x="343" y="686" width="1" height="9" fill="#f00"/>
<rect x="344" y="660" width="1" height="26" fill="#f00"/>
<rect x="345" y="643" width="1" height="17" fill="#f00"/>
<rect x="346" y="660" width="1" height="15" fill="#f00"/>
<rect x="347" y="675" width="1" height="16" fill="#f00"/>
<rect x="348" y="687" width="1" height="4" fill="#f00"/>
<rect x="349" y="681" width="1" height="16" fill="#f00"/>
<rect x="350" y="693" width="1" height="6" fill="#f00"/>
<rect x="351" y="693" width="1" height="5" fill="#f00"/>
<rect x="352" y="692" width="1" height="4" fill="#f00"/>
<rect x="353" y="680" width="1" height="15" fill="#f00"/>
<rect x="354" y="684" width="1" height="15" fill="#f00"/>
<rect x="355" y="660" width="1" height="39" fill="#f00"/>
<rect x="356" y="689" width="1" height="10" fill="#f00"/>
<rect x="357" y="668" width="1" height="22" fill="#f00"/>
<rect x="358" y="672" width="1" height="16" fill="#f00"/>
<rect x="359" y="678" width="1" height="13" fill="#f00"/>
<rect x="360" y="680" width="1" height="13" fill="#f00"/>
<rect x="361" y="682" width="1" height="11" fill="#f00"/>
<rect x="362" y="675" width="1" height="16" fill="#f00"/>
<rect x="363" y="675" width="1" height="15" fill="#f00"/>
<rect x="364" y="678" width="1" height="11" fill="#f00"/>
<rect x="365" y="679" width="1" height="15" fill="#f00"/>
<rect x="366" y="687" width="1" height="9" fill="#f00"/>
<rect x="367" y="671" width="1" height="25" fill="#f00"/>
<rect x="368" y="688" width="1" height="9" fill="#f00"/>
<rect x="369" y="683" width="1" height="15" fill="#f00"/>
<rect x="370" y="644" width="1" height="40" fill="#f00"/>
<rect x="371" y="684" width="1" height="15" fill="#f00"/>
<rect x="372" y="684" width="1" height="17" fill="#f00"/>
<rect x="373" y="683" width="1" height="17" fill="#f00"/>
<rect x="374" y="682" width="1" height="17" fill="#f00"/>
<rect x="375" y="673" width="1" height="24" fill="#f00"/>
<rect x="376" y="689" width="1" height="9" fill="#f00"/>
<rect x="377" y="690" width="1" height="9" fill="#f00"/>
<rect x="378" y="689" width="1" height="9" fill="#f00"/>
<rect x="379" y="690" width="1" height="7" fill="#f00"/>
<rect x="380" y="682" width="1" height="14" fill="#f00"/>
<rect x="381" y="692" width="1" height="5" fill="#f00"/>
<rect x="382" y="692" width="1" height="6" fill="#f00"/>
<rect x="383" y="692" width="1" height="4" fill="#f00"/>
<rect x="384" y="689" width="1" height="6" fill="#f00"/>
<rect x="385" y="687" width="1" height="6" fill="#f00"/>
<rect x="386" y="676" width="1" height="14" fill="#f00"/>
<rect x="387" y="646" width="1" height="31" fill="#f00"/>
<rect x="388" y="646" width="1" height="18" fill="#f00"/>
<rect x="389" y="661" width="1" height="7" fill="#f00"/>
<rect x="390" y="664" width="1" height="8" fill="#f00"/>
<rect x="391" y="664" width="1" height="13" fill="#f00"/>
<rect x="392" y="664" width="1" height="13" fill="#f00"/>
<rect x="393" y="665" width="1" height="20" fill="#f00"/>
<rect x="394" y="683" width="1" height="6" fill="#f00"/>
<rect x="395" y="686" width="1" height="6" fill="#f00"/>
<rect x="396" y="690" width="1" height="4" fill="#f00"/>
<rect x="397" y="692" width="1" height="6" fill="#f00"/>
<rect x="398" y="678" width="1" height="19" fill="#f00"/>
<rect x="399" y="667" width="1" height="29" fill="#f00"/>
<rect x="400" y="683" width="1" height="15" fill="#f00"/>
<rect x="401" y="681" width="1" height="19" fill="#f00"/>
<rect x="402" y="696" width="1" height="5" fill="#f00"/>
<rect x="403" y="694" width="1" height="5" fill="#f00"/>
<rect x="404" y="695" width="1" height="3" fill="#f00"/>
<rect x="405" y="678" width="1" height="19" fill="#f00"/>
<rect x="406" y="697" width="1" height="4" fill="#f00"/>
<rect x="407" y="694" width="1" height="4" fill="#f00"/>
<rect x="408" y="692" width="1" height="3" fill="#f00"/>
<rect x="409" y="685" width="1" height="8" fill="#f00"/>
<rect x="410" y="664" width="1" height="22" fill="#f00"/>
<rect x="411" y="633" width="1" height="42" fill="#f00"/>
<rect x="412" y="627" width="1" height="46" fill="#f00"/>
<rect x="413" y="673" width="1" height="24" fill="#f00"/>
<rect x="414" y="695" width="1" height="6" fill="#f00"/>
<rect x="415" y="695" width="1" height="7" fill="#f00"/>
<rect x="416" y="693" width="1" height="8" fill="#f00"/>
<rect x="417" y="691" width="1" height="11" fill="#f00"/>
<rect x="418" y="673" width="1" height="30" fill="#f00"/>
<rect x="419" y="670" width="1" height="29" fill="#f00"/>
<rect x="420" y="697" width="1" height="5" fill="#f00"/>
<rect x="421" y="699" width="1" height="4" fill="#f00"/>
<rect x="422" y="699" width="1" height="4" fill="#f00"/>
<rect x="423" y="700" width="1" height="4" fill="#f00"/>
<rect x="424" y="700" width="1" height="5" fill="#f00"/>
<rect x="425" y="697" width="1" height="9" fill="#f00"/>
<rect x="426" y="685" width="1" height="15" fill="#f00"/>
<rect x="427" y="689" width="1" height="13" fill="#f00"/>
<rect x="428" y="700" width="1" height="4" fill="#f00"/>
<rect x="429" y="702" width="1" height="3" fill="#f00"/>
<rect x="430" y="703" width="1" height="3" fill="#f00"/>
<rect x="431" y="691" width="1" height="14" fill="#f00"/>
<rect x="432" y="692" width="1" height="12" fill="#f00"/>
<rect x="433" y="667" width="1" height="34" fill="#f00"/>
<rect x="434" y="668" width="1" height="20" fill="#f00"/>
<rect x="435" y="682" width="1" height="10" fill="#f00"/>
<rect x="436" y="687" width="1" height="8" fill="#f00"/>
<rect x="437" y="660" width="1" height="35" fill="#f00"/>
<rect x="438" y="660" width="1" height="26" fill="#f00"/>
<rect x="439" y="678" width="1" height="12" fill="#f00"/>
<rect x="440" y="690" width="1" height="6" fill="#f00"/>
<rect x="441" y="672" width="1" height="24" fill="#f00"/>
<rect x="442" y="686" width="1" height="10" fill="#f00"/>
<rect x="443" y="688" width="1" height="6" fill="#f00"/>
<rect x="444" y="690" width="1" height="4" fill="#f00"/>
<rect x="445" y="667" width="1" height="27" fill="#f00"/>
<rect x="446" y="651" width="1" height="43" fill="#f00"/>
<rect x="447" y="677" width="1" height="11" fill="#f00"/>
<rect x="448" y="687" width="1" height="6" fill="#f00"/>
<rect x="449" y="690" width="1" height="7" fill="#f00"/>
<rect x="450" y="695" width="1" height="2" fill="#f00"/>
<rect x="451" y="686" width="1" height="11" fill="#f00"/>
<rect x="452" y="696" width="1" height="4" fill="#f00"/>
<rect x="453" y="696" width="1" height="4" fill="#f00"/>
<rect x="454" y="693" width="1" height="6" fill="#f00"/>
<rect x="455" y="694" width="1" height="3" fill="#f00"/>
<rect x="456" y="674" width="1" height="23" fill="#f00"/>
<rect x="457" y="695" width="1" height="4" fill="#f00"/>
<rect x="458" y="694" width="1" height="6" fill="#f00"/>
<rect x="459" y="697" width="1" height="5" fill="#f00"/>
<rect x="460" y="692" width="1" height="8" fill="#f00"/>
<rect x="461" y="691" width="1" height="8" fill="#f00"/>
<rect x="462" y="694" width="1" height="4" fill="#f00"/>
<rect x="463" y="668" width="1" height="29" fill="#f00"/>
<rect x="464" y="694" width="1" height="7" fill="#f00"/>
<rect x="465" y="695" width="1" height="9" fill="#f00"/>
<rect x="466" y="699" width="1" height="5" fill="#f00"/>
<rect x="467" y="670" width="1" height="33" fill="#f00"/>
<rect x="468" y="645" width="1" height="44" fill="#f00"/>
<rect x="469" y="684" width="1" height="11" fill="#f00"/>
<rect x="470" y="695" width="1" height="6" fill="#f00"/>
<rect x="471" y="694" width="1" height="7" fill="#f00"/>
<rect x="472" y="697" width="1" height="5" fill="#f00"/>
<rect x="473" y="695" width="1" height="8" fill="#f00"/>
<rect x="474" y="700" width="1" height="5" fill="#f00"/>
<rect x="475" y="679" width="1" height="26" fill="#f00"/>
<rect x="476" y="700" width="1" height="6" fill="#f00"/>
<rect x="477" y="699" width="1" height="5" fill="#f00"/>
<rect x="478" y="697" width="1" height="5" fill="#f00"/>
<rect x="479" y="696" width="1" height="4" fill="#f00"/>
<rect x="480" y="695" width="1" height="5" fill="#f00"/>
<rect x="481" y="695" width="1" height="3" fill="#f00"/>
<rect x="482" y="693" width="1" height="4" fill="#f00"/>
<rect x="483" y="695" width="1" height="3" fill="#f00"/>
<rect x="484" y="695" width="1" height="4" fill="#f00"/>
<rect x="485" y="695" width="1" height="8" fill="#f00"/>
<rect x="486" y="697" width="1" height="9" fill="#f00"/>
<rect x="487" y="697" width="1" height="8" fill="#f00"/>
<rect x="488" y="702" width="1" height="4" fill="#f00"/>
<rect x="489" y="702" width="1" height="6" fill="#f00"/>
<rect x="490" y="701" width="1" height="6" fill="#f00"/>
<rect x="491" y="699" width="1" height="6" fill="#f00"/>
<rect x="492" y="698" width="1" height="6" fill="#f00"/>
<rect x="493" y="698" width="1" height="7" fill="#f00"/>
<rect x="494" y="696" width="1" height="9" fill="#f00"/>
<rect x="495" y="686" width="1" height="13" fill="#f00"/>
<rect x="496" y="667" width="1" height="21" fill="#f00"/>
<rect x="497" y="677" width="1" height="17" fill="#f00"/>
<rect x="498" y="693" width="1" height="6" fill="#f00"/>
<rect x="499" y="692" width="1" height="7" fill="#f00"/>
<rect x="500" y="676" width="1" height="19" fill="#f00"/>
<rect x="501" y="682" width="1" height="13" fill="#f00"/>
<rect x="502" y="647" width="1" height="47" fill="#f00"/>
<rect x="503" y="669" width="1" height="16" fill="#f00"/>
<rect x="504" y="685" width="1" height="10" fill="#f00"/>
<rect x="505" y="687" width="1" height="11" fill="#f00"/>
<rect x="506" y="685" width="1" height="14" fill="#f00"/>
<rect x="507" y="693" width="1" height="7" fill="#f00"/>
<rect x="508" y="688" width="1" height="9" fill="#f00"/>
<rect x="509" y="693" width="1" height="5" fill="#f00"/>
<rect x="510" y="696" width="1" height="6" fill="#f00"/>
<rect x="511" y="687" width="1" height="13" fill="#f00"/>
<rect x="512" y="694" width="1" height="5" fill="#f00"/>
<rect x="513" y="693" width="1" height="5" fill="#f00"/>
<rect x="514" y="691" width="1" height="5" fill="#f00"/>
<rect x="515" y="689" width="1" height="5" fill="#f00"/>
<rect x="516" y="688" width="1" height="6" fill="#f00"/>
<rect x="517" y="687" width="1" height="7" fill="#f00"/>
<rect x="518" y="684" width="1" height="6" fill="#f00"/>
<rect x="519" y="684" width="1" height="5" fill="#f00"/>
<rect x="520" y="685" width="1" height="7" fill="#f00"/>
<rect x="521" y="671" width="1" height="14" fill="#f00"/>
<rect x="522" y="671" width="1" height="11" fill="#f00"/>
<rect x="523" y="677" width="1" height="8" fill="#f00"/>
<rect x="524" y="679" width="1" height="10" fill="#f00"/>
<rect x="525" y="657" width="1" height="32" fill="#f00"/>
<rect x="526" y="653" width="1" height="29" fill="#f00"/>
<rect x="527" y="677" width="1" height="11" fill="#f00"/>
<rect x="528" y="678" width="1" height="9" fill="#f00"/>
<rect x="529" y="641" width="1" height="37" fill="#f00"/>
<rect x="530" y="642" width="1" height="23" fill="#f00"/>
<rect x="531" y="651" width="1" height="14" fill="#f00"/>
<rect x="532" y="630" width="1" height="33" fill="#f00"/>
<rect x="533" y="630" width="1" height="34" fill="#f00"/>
<rect x="534" y="644" width="1" height="45" fill="#f00"/>
<rect x="535" y="649" width="1" height="40" fill="#f00"/>
<rect x="536" y="649" width="1" height="33" fill="#f00"/>
<rect x="537" y="665" width="1" height="17" fill="#f00"/>
<rect x="538" y="668" width="1" height="17" fill="#f00"/>
<rect x="539" y="673" width="1" height="13" fill="#f00"/>
<rect x="540" y="672" width="1" height="14" fill="#f00"/>
<rect x="541" y="669" width="1" height="17" fill="#f00"/>
<rect x="542" y="651" width="1" height="34" fill="#f00"/>
<rect x="543" y="651" width="1" height="25" fill="#f00"/>
<rect x="544" y="675" width="1" height="7" fill="#f00"/>
<rect x="545" y="681" width="1" height="6" fill="#f00"/>
<rect x="546" y="685" width="1" height="12" fill="#f00"/>
<rect x="547" y="695" width="1" height="7" fill="#f00"/>
<rect x="548" y="694" width="1" height="6" fill="#f00"/>
<rect x="549" y="682" width="1" height="13" fill="#f00"/>
<rect x="550" y="680" width="1" height="10" fill="#f00"/>
<rect x="551" y="673" width="1" height="12" fill="#f00"/>
<rect x="552" y="679" width="1" height="8" fill="#f00"/>
<rect x="553" y="657" width="1" height="28" fill="#f00"/>
<rect x="554" y="679" width="1" height="11" fill="#f00"/>
<rect x="555" y="690" width="1" height="5" fill="#f00"/>
<rect x="54" y="684" width="1" height="78" fill="#00f"/>
<rect x="55" y="658" width="1" height="104" fill="#00f"/>
<rect x="66" y="692" width="1" height="70" fill="#00f"/>
<rect x="69" y="731" width="1" height="31" fill="#00f"/>
<rect x="71" y="746" width="1" height="16" fill="#00f"/>
<rect x="72" y="758" width="1" height="4" fill="#00f"/>
<rect x="74" y="732" width="1" height="30" fill="#00f"/>
<rect x="78" y="724" width="1" height="38" fill="#00f"/>
<rect x="79" y="726" width="1" height="36" fill="#00f"/>
<rect x="81" y="736" width="1" height="26" fill="#00f"/>
<rect x="82" y="721" width="1" height="41" fill="#00f"/>
<rect x="83" y="706" width="1" height="56" fill="#00f"/>
<rect x="84" y="683" width="1" height="79" fill="#00f"/>
<rect x="85" y="683" width="1" height="79" fill="#00f"/>
<rect x="86" y="740" width="1" height="22" fill="#00f"/>
<rect x="87" y="734" width="1" height="28" fill="#00f"/>
<rect x="88" y="709" width="1" height="53" fill="#00f"/>
<rect x="95" y="756" width="1" height="6" fill="#00f"/>
<rect x="98" y="750" width="1" height="12" fill="#00f"/>
<rect x="99" y="747" width="1" height="15" fill="#00f"/>
<rect x="100" y="745" width="1" height="17" fill="#00f"/>
<rect x="101" y="744" width="1" height="18" fill="#00f"/>
<rect x="102" y="748" width="1" height="14" fill="#00f"/>
<rect x="104" y="735" width="1" height="27" fill="#00f"/>
<rect x="105" y="689" width="1" height="73" fill="#00f"/>
<rect x="108" y="751" width="1" height="11" fill="#00f"/>
<rect x="109" y="744" width="1" height="18" fill="#00f"/>
<rect x="110" y="744" width="1" height="18" fill="#00f"/>
<rect x="111" y="746" width="1" height="16" fill="#00f"/>
<rect x="112" y="748" width="1" height="14" fill="#00f"/>
<rect x="113" y="660" width="1" height="102" fill="#00f"/>
<rect x="114" y="660" width="1" height="102" fill="#00f"/>
<rect x="115" y="721" width="1" height="41" fill="#00f"/>
<rect x="116" y="742" width="1" height="20" fill="#00f"/>
<rect x="120" y="751" width="1" height="11" fill="#00f"/>
<rect x="122" y="759" width="1" height="3" fill="#00f"/>
<rect x="131" y="754" width="1" height="8" fill="#00f"/>
<rect x="150" y="701" width="1" height="61" fill="#00f"/>
<rect x="151" y="740" width="1" height="22" fill="#00f"/>
<rect x="153" y="760" width="1" height="2" fill="#00f"/>
<rect x="156" y="755" width="1" height="7" fill="#00f"/>
<rect x="157" y="759" width="1" height="3" fill="#00f"/>
<rect x="171" y="753" width="1" height="9" fill="#00f"/>
<rect x="194" y="674" width="1" height="88" fill="#00f"/>
<rect x="195" y="674" width="1" height="88" fill="#00f"/>
<rect x="196" y="719" width="1" height="43" fill="#00f"/>
<rect x="197" y="758" width="1" height="4" fill="#00f"/>
<rect x="200" y="756" width="1" height="6" fill="#00f"/>
<rect x="205" y="713" width="1" height="49" fill="#00f"/>
<rect x="208" y="751" width="1" height="11" fill="#00f"/>
<rect x="209" y="755" width="1" height="7" fill="#00f"/>
<rect x="222" y="741" width="1" height="21" fill="#00f"/>
<rect x="229" y="759" width="1" height="3" fill="#00f"/>
<rect x="230" y="701" width="1" height="61" fill="#00f"/>
<rect x="234" y="754" width="1" height="8" fill="#00f"/>
<rect x="238" y="757" width="1" height="5" fill="#00f"/>
<rect x="240" y="760" width="1" height="2" fill="#00f"/>
<rect x="243" y="731" width="1" height="31" fill="#00f"/>
<rect x="244" y="723" width="1" height="39" fill="#00f"/>
<rect x="245" y="750" width="1" height="12" fill="#00f"/>
<rect x="248" y="755" width="1" height="7" fill="#00f"/>
<rect x="256" y="723" width="1" height="39" fill="#00f"/>
<rect x="257" y="711" width="1" height="51" fill="#00f"/>
<rect x="259" y="742" width="1" height="20" fill="#00f"/>
<rect x="261" y="737" width="1" height="25" fill="#00f"/>
<rect x="262" y="722" width="1" height="40" fill="#00f"/>
<rect x="263" y="729" width="1" height="33" fill="#00f"/>
<rect x="264" y="727" width="1" height="35" fill="#00f"/>
<rect x="265" y="740" width="1" height="22" fill="#00f"/>
<rect x="267" y="741" width="1" height="21" fill="#00f"/>
<rect x="268" y="757" width="1" height="5" fill="#00f"/>
<rect x="277" y="755" width="1" height="7" fill="#00f"/>
<rect x="279" y="758" width="1" height="4" fill="#00f"/>
<rect x="281" y="751" width="1" height="11" fill="#00f"/>
<rect x="289" y="750" width="1" height="12" fill="#00f"/>
<rect x="290" y="759" width="1" height="3" fill="#00f"/>
<rect x="292" y="697" width="1" height="65" fill="#00f"/>
<rect x="293" y="706" width="1" height="56" fill="#00f"/>
<rect x="294" y="747" width="1" height="15" fill="#00f"/>
<rect x="298" y="753" width="1" height="9" fill="#00f"/>
<rect x="299" y="729" width="1" height="33" fill="#00f"/>
<rect x="301" y="743" width="1" height="19" fill="#00f"/>
<rect x="307" y="736" width="1" height="26" fill="#00f"/>
<rect x="310" y="756" width="1" height="6" fill="#00f"/>
<rect x="318" y="736" width="1" height="26" fill="#00f"/>
<rect x="319" y="689" width="1" height="73" fill="#00f"/>
<rect x="320" y="734" width="1" height="28" fill="#00f"/>
<rect x="322" y="747" width="1" height="15" fill="#00f"/>
<rect x="323" y="739" width="1" height="23" fill="#00f"/>
<rect x="324" y="729" width="1" height="33" fill="#00f"/>
<rect x="325" y="748" width="1" height="14" fill="#00f"/>
<rect x="328" y="705" width="1" height="57" fill="#00f"/>
<rect x="329" y="700" width="1" height="62" fill="#00f"/>
<rect x="330" y="713" width="1" height="49" fill="#00f"/>
<rect x="331" y="724" width="1" height="38" fill="#00f"/>
<rect x="332" y="729" width="1" height="33" fill="#00f"/>
<rect x="333" y="739" width="1" height="23" fill="#00f"/>
<rect x="334" y="748" width="1" height="14" fill="#00f"/>
<rect x="335" y="713" width="1" height="49" fill="#00f"/>
<rect x="336" y="740" width="1" height="22" fill="#00f"/>
<rect x="337" y="656" width="1" height="106" fill="#00f"/>
<rect x="338" y="656" width="1" height="106" fill="#00f"/>
<rect x="339" y="730" width="1" height="32" fill="#00f"/>
<rect x="340" y="754" width="1" height="8" fill="#00f"/>
<rect x="341" y="737" width="1" height="25" fill="#00f"/>
<rect x="342" y="756" width="1" height="6" fill="#00f"/>
<rect x="344" y="711" width="1" height="51" fill="#00f"/>
<rect x="345" y="680" width="1" height="82" fill="#00f"/>
<rect x="346" y="726" width="1" height="36" fill="#00f"/>
<rect x="347" y="748" width="1" height="14" fill="#00f"/>
<rect x="349" y="746" width="1" height="16" fill="#00f"/>
<rect x="353" y="744" width="1" height="18" fill="#00f"/>
<rect x="354" y="756" width="1" height="6" fill="#00f"/>
<rect x="355" y="704" width="1" height="58" fill="#00f"/>
<rect x="357" y="722" width="1" height="40" fill="#00f"/>
<rect x="358" y="729" width="1" height="33" fill="#00f"/>
<rect x="359" y="738" width="1" height="24" fill="#00f"/>
<rect x="360" y="745" width="1" height="17" fill="#00f"/>
<rect x="361" y="746" width="1" height="16" fill="#00f"/>
<rect x="362" y="730" width="1" height="32" fill="#00f"/>
<rect x="363" y="731" width="1" height="31" fill="#00f"/>
<rect x="364" y="741" width="1" height="21" fill="#00f"/>
<rect x="365" y="745" width="1" height="17" fill="#00f"/>
<rect x="367" y="719" width="1" height="43" fill="#00f"/>
<rect x="368" y="761" width="1" height="1" fill="#00f"/>
<rect x="369" y="748" width="1" height="14" fill="#00f"/>
<rect x="370" y="680" width="1" height="82" fill="#00f"/>
<rect x="372" y="746" width="1" height="16" fill="#00f"/>
<rect x="373" y="741" width="1" height="21" fill="#00f"/>
<rect x="374" y="743" width="1" height="19" fill="#00f"/>
<rect x="375" y="721" width="1" height="41" fill="#00f"/>
<rect x="376" y="751" width="1" height="11" fill="#00f"/>
<rect x="377" y="761" width="1" height="1" fill="#00f"/>
<rect x="378" y="758" width="1" height="4" fill="#00f"/>
<rect x="380" y="743" width="1" height="19" fill="#00f"/>
<rect x="385" y="756" width="1" height="6" fill="#00f"/>
<rect x="386" y="741" width="1" height="21" fill="#00f"/>
<rect x="387" y="698" width="1" height="64" fill="#00f"/>
<rect x="388" y="698" width="1" height="64" fill="#00f"/>
<rect x="389" y="727" width="1" height="35" fill="#00f"/>
<rect x="390" y="738" width="1" height="24" fill="#00f"/>
<rect x="391" y="721" width="1" height="41" fill="#00f"/>
<rect x="392" y="722" width="1" height="40" fill="#00f"/>
<rect x="393" y="733" width="1" height="29" fill="#00f"/>
<rect x="398" y="727" width="1" height="35" fill="#00f"/>
<rect x="399" y="715" width="1" height="47" fill="#00f"/>
<rect x="400" y="741" width="1" height="21" fill="#00f"/>
<rect x="401" y="743" width="1" height="19" fill="#00f"/>
<rect x="405" y="737" width="1" height="25" fill="#00f"/>
<rect x="409" y="747" width="1" height="15" fill="#00f"/>
<rect x="410" y="711" width="1" height="51" fill="#00f"/>
<rect x="411" y="675" width="1" height="87" fill="#00f"/>
<rect x="412" y="668" width="1" height="94" fill="#00f"/>
<rect x="413" y="750" width="1" height="12" fill="#00f"/>
<rect x="418" y="724" width="1" height="38" fill="#00f"/>
<rect x="419" y="725" width="1" height="37" fill="#00f"/>
<rect x="426" y="748" width="1" height="14" fill="#00f"/>
<rect x="433" y="724" width="1" height="38" fill="#00f"/>
<rect x="434" y="730" width="1" height="32" fill="#00f"/>
<rect x="435" y="754" width="1" height="8" fill="#00f"/>
<rect x="437" y="712" width="1" height="50" fill="#00f"/>
<rect x="438" y="712" width="1" height="50" fill="#00f"/>
<rect x="439" y="747" width="1" height="15" fill="#00f"/>
<rect x="441" y="723" width="1" height="39" fill="#00f"/>
<rect x="445" y="709" width="1" height="53" fill="#00f"/>
<rect x="446" y="694" width="1" height="68" fill="#00f"/>
<rect x="447" y="746" width="1" height="16" fill="#00f"/>
<rect x="451" y="752" width="1" height="10" fill="#00f"/>
<rect x="455" y="753" width="1" height="9" fill="#00f"/>
<rect x="456" y="732" width="1" height="30" fill="#00f"/>
<rect x="463" y="726" width="1" height="36" fill="#00f"/>
<rect x="467" y="713" width="1" height="49" fill="#00f"/>
<rect x="468" y="689" width="1" height="73" fill="#00f"/>
<rect x="475" y="722" width="1" height="40" fill="#00f"/>
<rect x="495" y="751" width="1" height="11" fill="#00f"/>
<rect x="496" y="724" width="1" height="38" fill="#00f"/>
<rect x="497" y="748" width="1" height="14" fill="#00f"/>
<rect x="500" y="723" width="1" height="39" fill="#00f"/>
<rect x="501" y="748" width="1" height="14" fill="#00f"/>
<rect x="502" y="695" width="1" height="67" fill="#00f"/>
<rect x="503" y="739" width="1" height="23" fill="#00f"/>
<rect x="504" y="747" width="1" height="15" fill="#00f"/>
<rect x="506" y="748" width="1" height="14" fill="#00f"/>
<rect x="508" y="752" width="1" height="10" fill="#00f"/>
<rect x="511" y="743" width="1" height="19" fill="#00f"/>
<rect x="518" y="759" width="1" height="3" fill="#00f"/>
<rect x="519" y="751" width="1" height="11" fill="#00f"/>
<rect x="521" y="719" width="1" height="43" fill="#00f"/>
<rect x="522" y="727" width="1" height="35" fill="#00f"/>
<rect x="523" y="739" width="1" height="23" fill="#00f"/>
<rect x="524" y="748" width="1" height="14" fill="#00f"/>
<rect x="525" y="702" width="1" height="60" fill="#00f"/>
<rect x="526" y="697" width="1" height="65" fill="#00f"/>
<rect x="527" y="748" width="1" height="14" fill="#00f"/>
<rect x="529" y="678" width="1" height="84" fill="#00f"/>
<rect x="530" y="678" width="1" height="84" fill="#00f"/>
<rect x="531" y="676" width="1" height="86" fill="#00f"/>
<rect x="532" y="663" width="1" height="99" fill="#00f"/>
<rect x="533" y="665" width="1" height="97" fill="#00f"/>
<rect x="534" y="678" width="1" height="84" fill="#00f"/>
<rect x="535" y="687" width="1" height="75" fill="#00f"/>
<rect x="536" y="700" width="1" height="62" fill="#00f"/>
<rect x="537" y="722" width="1" height="40" fill="#00f"/>
<rect x="538" y="727" width="1" height="35" fill="#00f"/>
<rect x="539" y="732" width="1" height="30" fill="#00f"/>
<rect x="540" y="731" width="1" height="31" fill="#00f"/>
<rect x="541" y="712" width="1" height="50" fill="#00f"/>
<rect x="542" y="692" width="1" height="70" fill="#00f"/>
<rect x="543" y="717" width="1" height="45" fill="#00f"/>
<rect x="544" y="741" width="1" height="21" fill="#00f"/>
<rect x="545" y="746" width="1" height="16" fill="#00f"/>
<rect x="546" y="753" width="1" height="9" fill="#00f"/>
<rect x="549" y="750" width="1" height="12" fill="#00f"/>
<rect x="550" y="750" width="1" height="12" fill="#00f"/>
<rect x="551" y="736" width="1" height="26" fill="#00f"/>
<rect x="552" y="748" width="1" height="14" fill="#00f"/>
<rect x="553" y="702" width="1" height="60" fill="#00f"/>
<rect x="554" y="753" width="1" height="9" fill="#00f"/>
<rect x="56" y="661" width="1" height="25" fill="#00f"/>
<rect x="57" y="668" width="1" height="35" fill="#00f"/>
<rect x="58" y="686" width="1" height="29" fill="#00f"/>
<rect x="59" y="702" width="1" height="24" fill="#00f"/>
<rect x="60" y="714" width="1" height="18" fill="#00f"/>
<rect x="61" y="724" width="1" height="12" fill="#00f"/>
<rect x="62" y="724" width="1" height="18" fill="#00f"/>
<rect x="63" y="725" width="1" height="22" fill="#00f"/>
<rect x="64" y="723" width="1" height="29" fill="#00f"/>
<rect x="65" y="723" width="1" height="35" fill="#00f"/>
<rect x="524" y="748" width="1" height="4" fill="#fff"/>
<rect x="527" y="748" width="1" height="2" fill="#fff"/>
<rect x="531" y="684" width="1" height="62" fill="#fff"/>
<rect x="534" y="694" width="1" height="56" fill="#fff"/>
<rect x="536" y="721" width="1" height="41" fill="#fff"/>
<rect x="543" y="717" width="1" height="21" fill="#fff"/>
<rect x="526" y="749" width="1" height="13" fill="#fff"/>
<text font-size="11" y="561.3"><tspan x="27.76" style="letter-spacing:0.445px">X10</tspan></text>
<text font-size="11" y="612.3"><tspan x="41.23">X</tspan></text>
<text font-size="11" y="663.3"><tspan x="39.94">M</tspan></text>
<text font-size="11" y="714.6"><tspan x="40.86">C</tspan></text>
<text font-size="11" y="762.2"><tspan x="40.92">B</tspan></text>
<text font-size="11.5" transform="translate(19.3,0) rotate(-90)" y="0"><tspan x="-696.28" textLength="27.71" lengthAdjust="spacingAndGlyphs">GOES</tspan> <tspan x="-663.75" style="letter-spacing:0.025px">X</tspan><tspan textLength="8.13" lengthAdjust="spacingAndGlyphs">-</tspan><tspan dx="0.025" style="letter-spacing:0.025px">ray</tspan> <tspan x="-626.25" textLength="27.75" lengthAdjust="spacingAndGlyphs">Class</tspan></text>
<text font-size="11" y="776"><tspan x="39.52" style="letter-spacing:1.495px">07/18</tspan></text>
<text font-size="11" y="776"><tspan x="139.77" style="letter-spacing:1.509px">07/21</tspan></text>
<text font-size="11" y="776"><tspan x="239.77" style="letter-spacing:1.457px">07/24</tspan></text>
<text font-size="11" y="776"><tspan x="339.77" style="letter-spacing:1.514px">07/27</tspan></text>
<text font-size="11" y="776"><tspan x="439.77" style="letter-spacing:1.481px">07/30</tspan></text>
<text font-size="12.5" y="791.2"><tspan x="479.60" textLength="50.18" lengthAdjust="spacingAndGlyphs">Prepared</tspan> <tspan x="535.31" textLength="11.31" lengthAdjust="spacingAndGlyphs">by</tspan> <tspan x="552.54" textLength="31.36" lengthAdjust="spacingAndGlyphs">HELIO</tspan></text>
</svg>
</body></html>
